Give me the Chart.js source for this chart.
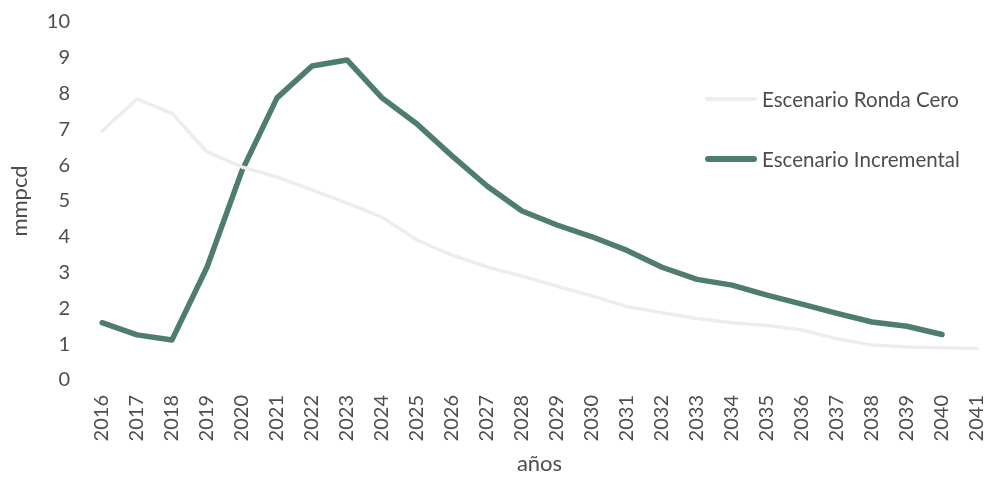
<!DOCTYPE html>
<html>
<head>
<meta charset="utf-8">
<script src="https://cdn.jsdelivr.net/npm/chart.js@4.4.1/dist/chart.umd.min.js"></script>
<style>
  html, body { margin: 0; padding: 0; background: #ffffff; }
  #wrap { position: relative; width: 987px; height: 485px; }
  #legend { position: absolute; left: 705px; top: 84px; font-family: Lato, "Open Sans", sans-serif; font-size: 20.5px; color: #4d4d4d; }
  .item { display: flex; align-items: center; height: 30px; margin-bottom: 30px; }
  .swatch { width: 52px; border-radius: 3px; margin-right: 5px; }
</style>
</head>
<body>
<div id="wrap">
  <canvas id="chart" width="987" height="485"></canvas>
  <div id="legend"></div>
</div>
<script>
// Years on the horizontal axis
const years = ['2016','2017','2018','2019','2020','2021','2022','2023','2024','2025','2026','2027','2028',
               '2029','2030','2031','2032','2033','2034','2035','2036','2037','2038','2039','2040','2041'];

// Production, mmpcd
const rondaCero = [6.95, 7.85, 7.45, 6.37, 5.95, 5.67, 5.31, 4.94, 4.55, 3.91, 3.49, 3.16, 2.9,
                   2.62, 2.35, 2.05, 1.88, 1.72, 1.6, 1.52, 1.4, 1.15, 0.98, 0.92, 0.9, 0.88];
const incremental = [1.6, 1.26, 1.12, 3.15, 5.85, 7.88, 8.77, 8.94, 7.88, 7.15, 6.26, 5.42, 4.72,
                     4.33, 4.0, 3.62, 3.15, 2.81, 2.65, 2.37, 2.12, 1.86, 1.62, 1.5, 1.27, null];

const seriesNames = ['Escenario Ronda Cero', 'Escenario Incremental'];
const yTicks = [0, 1, 2, 3, 4, 5, 6, 7, 8, 9, 10];

const textColor = '#4d4d4d';
const fontFamily = 'Lato, "Open Sans", sans-serif';

// Keep the plot area fixed: no extra room reserved for overhanging tick labels
function noOverhang(scale) {
  scale.paddingLeft = 0;
  scale.paddingRight = 0;
  scale.paddingTop = 0;
  scale.paddingBottom = 0;
}

const chart = new Chart(document.getElementById('chart'), {
  type: 'line',
  data: {
    labels: years,
    datasets: [
      {
        label: seriesNames[0],
        data: rondaCero,
        borderColor: '#ededed',
        borderWidth: 3.5,
        pointRadius: 0,
        tension: 0,
        borderJoinStyle: 'round',
        borderCapStyle: 'round'
      },
      {
        label: seriesNames[1],
        data: incremental,
        borderColor: '#4e7e69',
        borderWidth: 5.5,
        pointRadius: 0,
        tension: 0,
        borderJoinStyle: 'round',
        borderCapStyle: 'round',
        spanGaps: false
      }
    ]
  },
  options: {
    responsive: false,
    animation: false,
    layout: { padding: { top: 22, right: 10, left: 0, bottom: 0 } },
    plugins: {
      legend: { display: false },
      tooltip: { enabled: false }
    },
    scales: {
      x: {
        offset: false,
        grid: { display: false, drawTicks: false },
        border: { display: false },
        ticks: {
          color: textColor,
          font: { family: fontFamily, size: 20 },
          minRotation: 90,
          maxRotation: 90,
          padding: 15,
          autoSkip: false
        },
        title: {
          display: true,
          text: 'años',
          color: textColor,
          font: { family: fontFamily, size: 22 },
          padding: { top: 0, bottom: 8 }
        },
        afterFit: (scale) => { scale.height = 105; noOverhang(scale); }
      },
      y: {
        min: 0,
        max: 10,
        grid: { display: false, drawTicks: false },
        border: { display: false },
        afterBuildTicks: (scale) => { scale.ticks = yTicks.map(v => ({ value: v })); },
        ticks: {
          color: textColor,
          font: { family: fontFamily, size: 20 },
          padding: 32
        },
        title: {
          display: true,
          text: 'mmpcd',
          color: textColor,
          font: { family: fontFamily, size: 22 },
          padding: { top: 7, bottom: 0 }
        },
        afterFit: (scale) => { scale.width = 102; noOverhang(scale); }
      }
    }
  }
});

// Legend built from the datasets
const legend = document.getElementById('legend');
chart.data.datasets.forEach(ds => {
  const item = document.createElement('div');
  item.className = 'item';
  const sw = document.createElement('span');
  sw.className = 'swatch';
  sw.style.height = ds.borderWidth + 'px';
  sw.style.background = ds.borderColor;
  const label = document.createElement('span');
  label.textContent = ds.label;
  item.appendChild(sw);
  item.appendChild(label);
  legend.appendChild(item);
});
</script>
</body>
</html>
